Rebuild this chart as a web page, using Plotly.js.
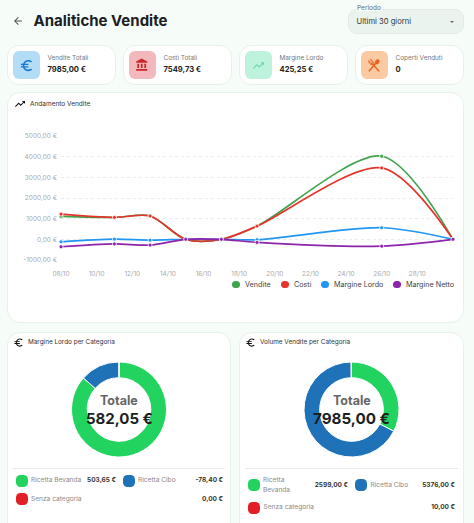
<!DOCTYPE html>
<html><head><meta charset="utf-8">
<script src="https://cdn.plot.ly/plotly-3.0.1.min.js"></script>
<style>
html,body{margin:0;padding:0;width:474px;height:523px;overflow:hidden;background:#f6fdf8;font-family:Inter,"Liberation Sans",sans-serif;color:#1b1f22}
.a{position:absolute}
.a svg{display:block}
.card{position:absolute;background:#fff;border:1px solid #e6f1ea;box-sizing:border-box;border-radius:13px}
.t{position:absolute;white-space:nowrap;line-height:1}
.dot{position:absolute;width:12px;height:12px;border-radius:4.5px}
</style></head><body>
<div id="page"></div>
<div id="lineChart" class="a" style="left:0;top:92px;width:474px;height:200px"></div>
<div id="marginDonut" class="a" style="left:7px;top:350px;width:224px;height:118px"></div>
<div id="volumeDonut" class="a" style="left:239px;top:350px;width:225px;height:118px"></div>
<script>
// ---- data ----
const dates = ['2024-10-08','2024-10-11','2024-10-13','2024-10-15','2024-10-17','2024-10-19','2024-10-26','2024-10-30'];
const vendite = [1110,1060,1130,0,0,640,4020,0];
const costi = [1220,1060,1130,0,0,640,3456,0];
const margineLordo = [-120,10,-40,0,0,-20,560,0];
const margineNetto = [-360,-220,-280,0,0,-150,-330,0];
const seriesNames = ['Vendite','Costi','Margine Lordo','Margine Netto'];
const seriesColors = ['#3fa34a','#e5342b','#2196f3','#8e24aa'];
const yTicks = [-1000,0,1000,2000,3000,4000,5000];
const yTickLabels = ['-1000,00 €','0,00 €','1000,00 €','2000,00 €','3000,00 €','4000,00 €','5000,00 €'];
const xTicks = ['2024-10-08','2024-10-10','2024-10-12','2024-10-14','2024-10-16','2024-10-18','2024-10-20','2024-10-22','2024-10-24','2024-10-26','2024-10-28'];
const xTickLabels = ['08/10','10/10','12/10','14/10','16/10','18/10','20/10','22/10','24/10','26/10','28/10'];
const categories = ['Ricetta Bevanda','Ricetta Cibo','Senza categoria'];
const categoryColors = ['#22d45f','#1f72b8','#e21f26'];
const marginValues = [503.65,78.40,0];
const marginLabels = ['503,65 €','-78,40 €','0,00 €'];
const volumeValues = [2599,5376,10];
const volumeLabels = ['2599,00 €','5376,00 €','10,00 €'];
const statLabels = ['Vendite Totali','Costi Totali','Margine Lordo','Coperti Venduti'];
const statValues = ['7985,00 €','7549,73 €','425,25 €','0'];

// ---- page furniture ----
const P = {
 back:'M20 11H7.83l5.59-5.59L12 4l-8 8 8 8 1.41-1.41L7.83 13H20v-2z',
 euro:'M15 18.5c-2.51 0-4.68-1.42-5.76-3.5H15v-2H8.58c-.05-.33-.08-.66-.08-1s.03-.67.08-1H15V9H9.24C10.32 6.92 12.5 5.5 15 5.5c1.61 0 3.09.59 4.23 1.57L21 5.3C19.41 3.87 17.3 3 15 3c-3.92 0-7.24 2.51-8.48 6H3v2h3.06c-.04.33-.06.66-.06 1s.02.67.06 1H3v2h3.52c1.24 3.49 4.56 6 8.48 6 2.31 0 4.41-.87 6-2.3l-1.78-1.77c-1.13.98-2.6 1.57-4.22 1.57z',
 bank:'M4 10v7h3v-7H4zm6 0v7h3v-7h-3zM2 22h19v-3H2v3zm14-12v7h3v-7h-3zm-4.5-9L2 6v2h19V6l-9.5-5z',
 trend:'M16 6l2.29 2.29-4.88 4.88-4-4L2 16.59 3.41 18l6-6 4 4 6.3-6.29L22 12V6z'
};
const page = document.getElementById('page');
function el(cls,css,txt,parent){const d=document.createElement('div');d.className=cls;d.style.cssText=css;if(txt!=null)d.textContent=txt;(parent||page).appendChild(d);return d;}
function icon(path,x,y,s,col){const d=el('a',`left:${x}px;top:${y}px;width:${s}px;height:${s}px`);d.innerHTML=`<svg viewBox="0 0 24 24" width="${s}" height="${s}"><path d="${path}" fill="${col}"/></svg>`;}
function cutlery(cx,cy,s,col){const d=el('a',`left:${cx-s/2}px;top:${cy-s/2}px;width:${s}px;height:${s}px`);
 d.innerHTML=`<svg viewBox="0 0 24 24" width="${s}" height="${s}"><g stroke="${col}" fill="none" stroke-linecap="round"><path d="M4 22L15 9" stroke-width="2.6"/><ellipse cx="17.5" cy="6.5" rx="3.6" ry="4.6" transform="rotate(42 17.5 6.5)" fill="${col}" stroke="none"/><path d="M20 22L8 9" stroke-width="2.6"/><path d="M3 5l5.5 6M6 3l5.5 6M3 5c-.5 3 2 6 5 6.5M11.5 9C11 6 9 3.500 6 3" stroke-width="1.5"/></g></svg>`;}

icon(P.back,12,14.5,12,'#555');
el('t','left:33.5px;top:12.5px;font-size:15px;font-weight:700;color:#1b2024','Analitiche Vendite');
el('a','left:348px;top:9px;width:116px;height:25px;background:#eaf3ee;border-radius:9px;border:1px solid #e3ece7;box-sizing:border-box');
el('t','left:356px;top:4.5px;font-size:6.5px;color:#666;background:#f6fdf8;padding:0 1px','Periodo');
el('t','left:356.5px;top:18px;font-size:7.6px;color:#333','Ultimi 30 giorni');
el('a','left:450px;top:21px;width:0;height:0;border-left:2.3px solid transparent;border-right:2.3px solid transparent;border-top:2.6px solid #666');

const statX=[7,123,239,355];
const statBg=['#b3dcf6','#f2b8bc','#bdf3dd','#fbcaa2'];
const statCol=['#1976d2','#c62828','#6fd3a5','#e8631c'];
const statIcon=[P.euro,P.bank,P.trend,null];
const statIconSize=[15,14,13,14];
statLabels.forEach((s,i)=>{
  const x=statX[i], sz=statIconSize[i], cx=x+19.25;
  el('card',`left:${x}px;top:45px;width:109px;height:40px;border-radius:12px`);
  el('a',`left:${x+5.5}px;top:51px;width:27.5px;height:28px;border-radius:6px;background:${statBg[i]}`);
  if(statIcon[i]) icon(statIcon[i],cx-sz/2,65-sz/2,sz,statCol[i]);
  else cutlery(cx,65,sz,statCol[i]);
  el('t',`left:${x+40.5}px;top:54.5px;font-size:6.4px;color:#777`,s);
  el('t',`left:${x+40.5}px;top:65.5px;font-size:7.6px;font-weight:700;color:#222`,statValues[i]);
});

el('card','left:6.5px;top:92px;width:457.5px;height:231px');
icon(P.trend,13.5,98,12,'#111');
el('t','left:30px;top:100.7px;font-size:6.5px;color:#333','Andamento Vendite');

const legX=[236,285,325,397];
seriesNames.forEach((n,i)=>{
  el('a',`left:${legX[i]-3.7}px;top:281px;width:7.4px;height:7.4px;border-radius:50%;background:${seriesColors[i]};z-index:5`);
  el('t',`left:${legX[i]+9}px;top:280.8px;font-size:7.2px;color:#444;z-index:5`,n);
});

el('card','left:6.5px;top:331.5px;width:224.5px;height:215px');
el('card','left:239px;top:331.5px;width:225px;height:215px');
icon(P.euro,12.500,337,11,'#111');
icon(P.euro,245,337,11,'#111');
el('t','left:28px;top:339.3px;font-size:6.4px;color:#333','Margine Lordo per Categoria');
el('t','left:260px;top:339.3px;font-size:6.4px;color:#333','Volume Vendite per Categoria');
el('a','left:12px;top:467.5px;width:213px;height:1px;background:#e8ebe9');
el('a','left:245px;top:467.5px;width:213px;height:1px;background:#e8ebe9');

function row(i,dotX,textX,valR,y,labels,labelText){
  el('dot',`left:${dotX-6}px;top:${y-6}px;background:${categoryColors[i]}`);
  (labelText||[categories[i]]).forEach((line,k,arr)=>{
    el('t',`left:${textX}px;top:${y-3.5+(k-(arr.length-1)/2)*10}px;font-size:6.6px;color:#8a8a8a`,line);
  });
  el('t',`right:${474-valR}px;top:${y-3.5}px;font-size:6.5px;font-weight:700;color:#333`,labels[i]);
}
row(0,21.5,31,116,480.5,marginLabels);
row(1,128.5,138,223,480.5,marginLabels);
row(2,21.5,31,223,499,marginLabels);
row(0,254,263,348,485,volumeLabels,categories[0].split(' '));
row(1,361,370.5,455,485,volumeLabels);
row(2,254,263.5,455,507.5,volumeLabels);

// ---- charts ----
const seriesData=[vendite,costi,margineLordo,margineNetto];
const traces=seriesNames.map((n,i)=>({
  x:dates,y:seriesData[i],name:n,type:'scatter',mode:'lines+markers',cliponaxis:false,
  line:{color:seriesColors[i],width:1.7,shape:'spline',smoothing:0.85},
  marker:{size:4,color:seriesColors[i],line:{color:'#fff',width:0.8}},
  hoverinfo:'skip'
}));
Plotly.newPlot('lineChart',traces,{
  width:474,height:200,margin:{l:61,r:21,t:43.7,b:32},
  paper_bgcolor:'rgba(0,0,0,0)',plot_bgcolor:'rgba(0,0,0,0)',showlegend:false,
  font:{family:'Inter, sans-serif',size:6.5,color:'#a9a9a9'},
  xaxis:{type:'date',range:[dates[0],dates[dates.length-1]],tickmode:'array',tickvals:xTicks,ticktext:xTickLabels,showgrid:false,zeroline:false,showline:false,ticks:'',ticklabelstandoff:8,tickfont:{size:6.5,color:'#a9a9a9'}},
  yaxis:{range:[-1000,5000],tickmode:'array',tickvals:yTicks,ticktext:yTickLabels,zeroline:false,showline:false,ticks:'',ticklabelstandoff:3,gridcolor:'#e6e6e6',griddash:'dot',gridwidth:0.8,tickfont:{size:6.5,color:'#a9a9a9'}}
},{displayModeBar:false,staticPlot:true});

function donut(id,vals,total,size){
  const w=document.getElementById(id).clientWidth;
  Plotly.newPlot(id,[{type:'pie',values:vals,labels:categories,hole:0.67,sort:false,direction:'clockwise',rotation:0,
    marker:{colors:categoryColors,line:{color:'#fff',width:1}},textinfo:'none',hoverinfo:'skip',showlegend:false,
    domain:{x:[0,1],y:[0,1]}}],{
    width:w,height:118,margin:{l:0,r:0,t:11.5,b:10.5},paper_bgcolor:'rgba(0,0,0,0)',showlegend:false,
    font:{family:'Inter, sans-serif'},
    annotations:[
      {text:'Totale',x:0.5,y:0.60,xref:'paper',yref:'paper',showarrow:false,font:{size:12.5,color:'#666',weight:700}},
      {text:'<b>'+total+'</b>',x:0.5,y:0.41,xref:'paper',yref:'paper',showarrow:false,font:{size:size,color:'#1b1f22'}}
    ]
  },{displayModeBar:false,staticPlot:true});
}
donut('marginDonut',marginValues,'582,05 €',15);
donut('volumeDonut',volumeValues,'7985,00 €',15.2);
</script>
</body></html>
